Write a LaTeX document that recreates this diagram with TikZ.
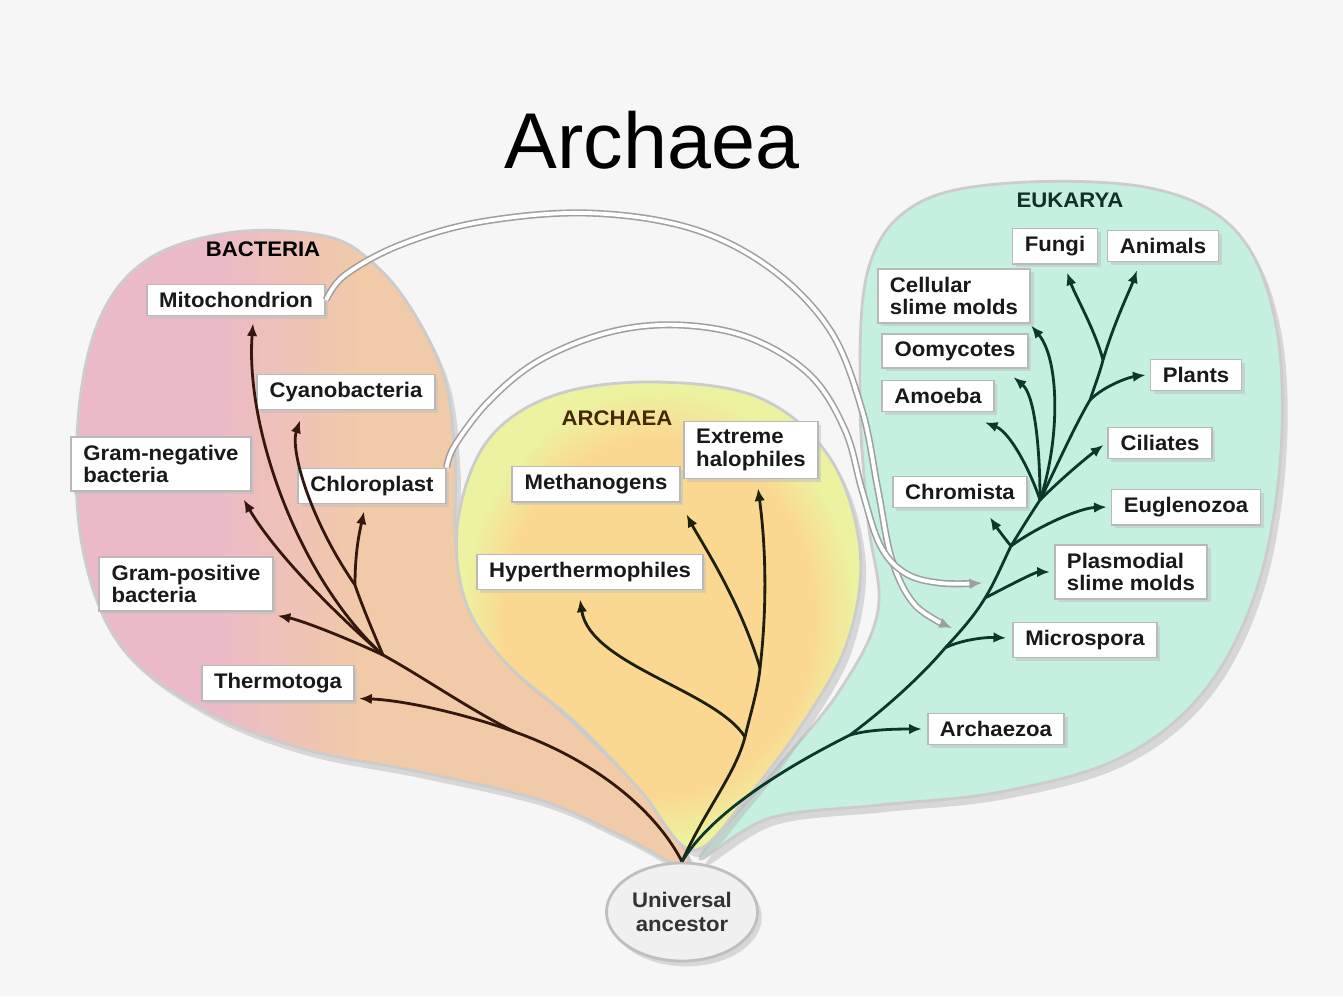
\documentclass[tikz,border=0pt]{standalone}
\usepackage{fontspec}
\setmainfont{Liberation Sans}
\newfontfamily\lblfont[FakeStretch=1.05]{Liberation Sans}
\usetikzlibrary{arrows.meta,calc,shapes.geometric,shadows}

\definecolor{bgcol}{RGB}{246,246,246}
\definecolor{bactpink}{RGB}{235,185,200}
\definecolor{bactpeach}{RGB}{241,202,168}
\definecolor{archcore}{RGB}{251,216,145}
\definecolor{archrim}{RGB}{236,242,160}
\definecolor{eukteal}{RGB}{197,239,223}
\definecolor{bactline}{RGB}{52,24,14}
\definecolor{archline}{RGB}{30,32,12}
\definecolor{eukline}{RGB}{12,56,42}
\definecolor{archlbl}{RGB}{70,40,0}
\definecolor{euklbl}{RGB}{16,48,40}

\pgfdeclarehorizontalshading{bactshade}{100bp}{color(0bp)=(bactpink); color(36bp)=(bactpink); color(48bp)=(bactpeach); color(100bp)=(bactpeach)}
\pgfdeclareradialshading{archshade}{\pgfpoint{0bp}{0bp}}{color(0bp)=(archcore); color(19bp)=(archcore); color(24bp)=(archrim); color(50bp)=(archrim)}

\begin{document}
\begin{tikzpicture}[x=0.01cm, y=-0.01cm, >={Latex[length=3.6pt,width=3pt]},
    box/.style={draw=gray!55, fill=white, line width=0.5pt, inner xsep=3.5pt, inner ysep=2.2pt,
      align=left, text=black!90, font=\lblfont\bfseries\fontsize{6}{6.4}\selectfont,
      drop shadow={shadow xshift=0.9pt, shadow yshift=-0.9pt, fill=gray!50}},
    domainlbl/.style={font=\lblfont\bfseries\fontsize{6}{7}\selectfont},
    blob/.style={draw=gray!40, line width=0.8pt,
      drop shadow={shadow xshift=1.5pt, shadow yshift=-2pt, fill=gray!55}},
    bline/.style={draw=bactline, line width=0.8pt},
    aline/.style={draw=archline, line width=0.8pt},
    eline/.style={draw=eukline, line width=0.8pt},
    transfer/.style={draw=gray!75, double=white, double distance=1.1pt, line width=0.45pt, ->}]
  \fill[bgcol] (0,0) rectangle (1343,996);
  \useasboundingbox (0,0) rectangle (1343,996);

  % the three domains
  \path[blob, shade, shading=bactshade] plot[smooth cycle, tension=0.6] coordinates {(690,868) (620,835) (540,800) (420,772) (300,748) (200,708) (120,645) (82,545) (78,420) (100,318) (150,258) (235,232) (325,236) (372,262) (412,310) (445,380) (455,460) (458,560) (490,640) (570,720) (650,800)};
  \path[blob, fill=eukteal] plot[smooth cycle, tension=0.6] coordinates {(700,858) (770,818) (880,805) (1000,792) (1120,758) (1205,690) (1258,585) (1281,450) (1275,320) (1235,230) (1150,188) (1010,183) (915,205) (868,270) (860,400) (868,520) (878,610) (840,690) (775,770)};
  \path[blob, shade, shading=archshade] plot[smooth cycle, tension=0.6] coordinates {(692,850) (640,790) (575,722) (505,662) (465,600) (458,520) (488,440) (555,395) (655,382) (760,398) (830,458) (860,550) (848,640) (805,720) (745,800)};

  \node[font=\fontsize{22.5}{27}\selectfont] (title) at (652,140) {Archaea};
  \node[domainlbl] (bactlbl) at (263,249) {BACTERIA};
  \node[domainlbl, text=archlbl] (archlbl) at (617,418) {ARCHAEA};
  \node[domainlbl, text=euklbl] (euklbl) at (1070,200) {EUKARYA};

  % bacteria
  \node[box] (mito) at (236,300) {Mitochondrion};
  \node[box] (cyano) at (346,392) {Cyanobacteria};
  \node[box] (gneg) at (161,464) {Gram-negative\\bacteria};
  \node[box] (cplast) at (372,486) {Chloroplast};
  \node[box] (gpos) at (186,584) {Gram-positive\\bacteria};
  \node[box] (thermo) at (278,683) {Thermotoga};
  % archaea
  \node[box] (meth) at (596,484) {Methanogens};
  \node[box] (halo) at (751,450) {Extreme\\halophiles};
  \node[box] (hyper) at (590,572) {Hyperthermophiles};
  % eukarya
  \node[box] (fungi) at (1055,246) {Fungi};
  \node[box] (anim) at (1163,246) {Animals};
  \node[box] (csm) at (954,296) {Cellular\\slime molds};
  \node[box] (oomy) at (955,351) {Oomycotes};
  \node[box] (amoeba) at (938,396) {Amoeba};
  \node[box] (plants) at (1196,375) {Plants};
  \node[box] (cil) at (1160,443) {Ciliates};
  \node[box] (chrom) at (960,492) {Chromista};
  \node[box] (eugl) at (1186,507) {Euglenozoa};
  \node[box] (plasmo) at (1131,572) {Plasmodial\\slime molds};
  \node[box] (micro) at (1085,640) {Microspora};
  \node[box] (archz) at (996,729) {Archaezoa};

  \node[ellipse, draw=gray!50, fill=gray!12, line width=0.8pt, minimum width=1.35cm, minimum height=0.98cm,
    align=center, inner sep=1pt, font=\lblfont\bfseries\fontsize{6}{6.8}\selectfont, text=black!80,
    drop shadow={shadow xshift=1.2pt, shadow yshift=-1.5pt, fill=gray!55}] (anc) at (682,912) {Universal\\ancestor};

  % endosymbiosis
  \coordinate (mitoend) at (952,628);
  \coordinate (cplastend) at (982,583);
  \draw[transfer] plot[smooth, tension=0.6] coordinates {(mito.east) (345,275) (400,245) (480,222) (587,213) (690,228) (770,268) (830,330) (862,410) (878,490) (892,560) (915,605) (mitoend)};
  \draw[transfer] plot[smooth, tension=0.6] coordinates {(cplast.north east) (455,445) (490,400) (540,360) (610,332) (680,325) (750,338) (810,375) (845,430) (862,490) (880,545) (905,573) (940,583) (cplastend)};

  % bacteria tree
  \coordinate (bt) at (515,732);
  \coordinate (bj) at (383,655);
  \coordinate (bk) at (355,585);
  \draw[bline] (anc.north) .. controls (650,800) and (580,755) .. (bt);
  \draw[bline] (bt) .. controls (470,710) and (420,675) .. (bj);
  \draw[bline,->] (bt) .. controls (460,712) and (400,700) .. ($(thermo.south east)+(4,-3)$);
  \draw[bline,->] (bj) .. controls (340,635) and (300,620) .. ($(gpos.south east)+(4,4)$);
  \draw[bline,->] (bj) .. controls (320,600) and (270,545) .. ($(gneg.south east)+(-8,8)$);
  \draw[bline,->] (bj) .. controls (300,580) and (245,430) .. ($(mito.south)+(17,7)$);
  \draw[bline] (bj) .. controls (370,625) and (360,600) .. (bk);
  \draw[bline,->] (bk) .. controls (355,550) and (360,530) .. ($(cplast.south)+(-8,7)$);
  \draw[bline,->] (bk) .. controls (310,520) and (290,450) .. ($(cyano.south)+(-46,10)$);

  % archaea tree
  \coordinate (aj) at (745,737);
  \coordinate (ak) at (760,668);
  \draw[aline] (anc.north) .. controls (705,810) and (735,775) .. (aj);
  \draw[aline] (aj) .. controls (750,715) and (758,690) .. (ak);
  \draw[aline,->] (aj) .. controls (715,690) and (590,665) .. ($(hyper.south)+(-10,9)$);
  \draw[aline,->] (ak) .. controls (740,600) and (700,540) .. ($(meth.south east)+(6,12)$);
  \draw[aline,->] (ak) .. controls (768,600) and (765,540) .. ($(halo.south)+(7,9)$);

  % eukarya tree
  \coordinate (e1) at (850,735);
  \coordinate (e2) at (945,648);
  \coordinate (e3) at (985,598);
  \coordinate (e4) at (1011,546);
  \coordinate (e5) at (1040,500);
  \coordinate (e6) at (1090,400);
  \coordinate (e7) at (1103,360);
  \draw[eline] (anc.north) .. controls (710,815) and (780,770) .. (e1);
  \draw[eline] (e1) .. controls (890,705) and (925,672) .. (e2);
  \draw[eline] (e2) .. controls (960,632) and (975,615) .. (e3);
  \draw[eline] (e3) .. controls (995,582) and (1004,560) .. (e4);
  \draw[eline] (e4) .. controls (1022,528) and (1032,512) .. (e5);
  \draw[eline] (e5) .. controls (1055,470) and (1075,425) .. (e6);
  \draw[eline] (e6) .. controls (1095,385) and (1100,372) .. (e7);
  \draw[eline,->] (e1) .. controls (870,729) and (900,729) .. ($(archz.west)+(-5,0)$);
  \draw[eline,->] (e2) .. controls (960,640) and (985,637) .. ($(micro.west)+(-6,-2)$);
  \draw[eline,->] (e3) .. controls (1010,585) and (1035,572) .. ($(plasmo.west)+(-4,0)$);
  \draw[eline,->] (e4) .. controls (1002,535) and (995,525) .. ($(chrom.south)+(30,9)$);
  \draw[eline,->] (e4) .. controls (1040,525) and (1080,508) .. ($(eugl.west)+(-4,0)$);
  \draw[eline,->] (e5) .. controls (1065,475) and (1090,455) .. ($(cil.west)+(-4,2)$);
  \draw[eline,->] (e5) .. controls (1030,470) and (1010,432) .. ($(amoeba.south east)+(-10,10)$);
  \draw[eline,->] (e5) .. controls (1040,450) and (1035,395) .. ($(oomy.south east)+(-15,8)$);
  \draw[eline,->] (e5) .. controls (1060,440) and (1060,360) .. ($(csm.south east)+(0,2)$);
  \draw[eline,->] (e6) .. controls (1105,385) and (1130,377) .. ($(plants.west)+(-4,0)$);
  \draw[eline,->] (e7) .. controls (1095,330) and (1075,295) .. ($(fungi.south)+(12,8)$);
  \draw[eline,->] (e7) .. controls (1115,320) and (1130,290) .. ($(anim.south)+(-26,8)$);
\end{tikzpicture}
\end{document}
